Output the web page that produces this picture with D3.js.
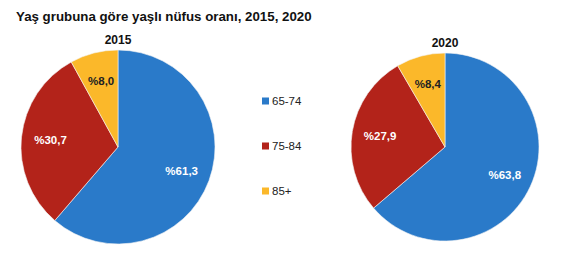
<!DOCTYPE html>
<html>
<head>
<meta charset="utf-8">
<script src="https://cdn.jsdelivr.net/npm/d3@7"></script>
<style>
body { margin: 0; background: #fff; }
svg { font-family: "Liberation Sans", Arial, sans-serif; }
</style>
</head>
<body>
<svg id="chart"></svg>
<script>
// data
const groups = ["65-74", "75-84", "85+"];
const years = ["2015", "2020"];
const values2015 = [61.3, 30.7, 8.0];
const values2020 = [63.8, 27.9, 8.4];
const colors = ["#2a7ac9", "#b3231a", "#fbb82a"];
const labelColors = ["#ffffff", "#ffffff", "#222222"];

const width = 569, height = 265;
const svg = d3.select("#chart").attr("width", width).attr("height", height);

svg.append("text")
    .attr("x", 16).attr("y", 21)
    .attr("font-size", 13.3).attr("font-weight", "bold").attr("fill", "#111")
    .text("Yaş grubuna göre yaşlı nüfus oranı, 2015, 2020");

const color = d3.scaleOrdinal().domain(groups).range(colors);
const pie = d3.pie().sort(null).value(d => d.v);
const fmt = v => "%" + v.toFixed(1).replace(".", ",");

function drawPie(cx, cy, r, year, vals) {
    const g = svg.append("g").attr("transform", `translate(${cx},${cy})`);
    const arc = d3.arc().innerRadius(0).outerRadius(r);
    const labelArc = d3.arc().innerRadius(r * 0.7).outerRadius(r * 0.7);
    const arcs = pie(vals.map((v, i) => ({ k: groups[i], v: v, i: i })));

    g.selectAll("path")
        .data(arcs)
        .enter()
        .append("path")
        .attr("d", arc)
        .attr("fill", d => color(d.data.k))
        .attr("stroke", "#f4f4f4")
        .style("stroke-width", "0.6px");

    g.selectAll("text.lbl")
        .data(arcs)
        .enter()
        .append("text")
        .attr("class", "lbl")
        .attr("transform", d => `translate(${labelArc.centroid(d)})`)
        .attr("text-anchor", "middle")
        .attr("dy", "0.35em")
        .attr("font-size", 11.5).attr("font-weight", "bold")
        .attr("fill", d => labelColors[d.data.i])
        .text(d => fmt(d.data.v));

    svg.append("text")
        .attr("x", cx).attr("y", cy - r - 6)
        .attr("text-anchor", "middle")
        .attr("font-size", 12).attr("font-weight", "bold").attr("fill", "#111")
        .text(year);
}

drawPie(118, 147, 97, years[0], values2015);
drawPie(445, 147, 94, years[1], values2020);

// legend
const legend = svg.append("g");
const ly = d3.scalePoint().domain(groups).range([101, 191]);
groups.forEach(k => {
    legend.append("rect")
        .attr("x", 262).attr("y", ly(k) - 3.5)
        .attr("width", 7).attr("height", 7)
        .attr("fill", color(k));
    legend.append("text")
        .attr("x", 272).attr("y", ly(k))
        .attr("dy", "0.35em")
        .attr("font-size", 11.5).attr("fill", "#222")
        .text(k);
});
</script>
</body>
</html>
